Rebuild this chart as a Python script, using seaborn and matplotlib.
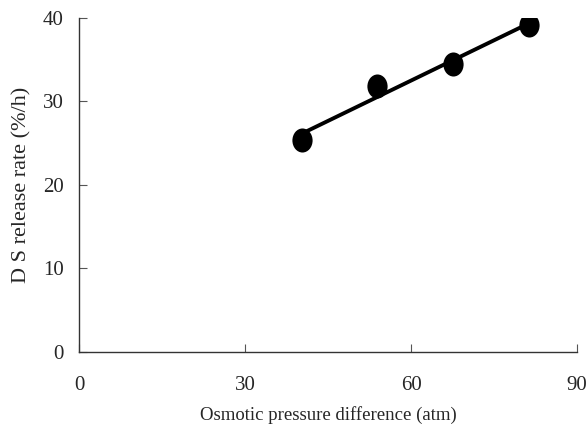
import numpy as np
import pandas as pd
import matplotlib
matplotlib.use("Agg")
import matplotlib.pyplot as plt
from matplotlib.path import Path
import seaborn as sns

# Measured release rates versus osmotic pressure difference
pressure_atm = [40.3, 53.9, 67.6, 81.3]
release_rate = [25.4, 31.9, 34.5, 39.2]
x_ticks = [0, 30, 60, 90]
y_ticks = [0, 10, 20, 30, 40]

df = pd.DataFrame({"pressure": pressure_atm, "rate": release_rate})

sns.set_theme(style="white")
plt.rcParams["font.family"] = ["Liberation Serif", "DejaVu Serif"]

fig = plt.figure(figsize=(5.87, 4.28), dpi=100)
ax = fig.add_axes([0.1346, 0.1776, 0.8484, 0.7804])

# Least-squares fit over the measured range
slope, intercept = np.polyfit(df["pressure"], df["rate"], 1)
fit = pd.DataFrame({"pressure": [df["pressure"].min(), df["pressure"].max()]})
fit["rate"] = slope * fit["pressure"] + intercept
sns.lineplot(data=fit, x="pressure", y="rate", ax=ax, color="black", linewidth=2.8)

# Slightly upright oval marker
circ = Path.unit_circle()
oval = Path(circ.vertices * np.array([0.84, 1.0]), circ.codes)
sns.scatterplot(data=df, x="pressure", y="rate", ax=ax, color="black",
                marker=oval, s=300, edgecolor="black", linewidth=0, zorder=3)

ax.set_xlim(0, 90)
ax.set_ylim(0, 40)
ax.set_xticks(x_ticks)
ax.set_yticks(y_ticks)
ax.tick_params(axis="both", direction="in", length=6, width=0.8, color="#555555",
               labelsize=15, bottom=True, left=True)
ax.tick_params(axis="x", pad=17)
ax.tick_params(axis="y", pad=11)
for side in ("top", "right"):
    ax.spines[side].set_visible(False)
for side in ("left", "bottom"):
    ax.spines[side].set_color("#333333")
    ax.spines[side].set_linewidth(1.0)

ax.set_xlabel("Osmotic pressure difference (atm)", fontsize=13.5)
ax.xaxis.set_label_coords(0.5, -0.163)
ax.set_ylabel("D S release rate (%/h)", fontsize=16)
ax.yaxis.set_label_coords(-0.114, 0.5)
ax.yaxis.label.set_verticalalignment("center")

fig.savefig("out.png", dpi=100)
